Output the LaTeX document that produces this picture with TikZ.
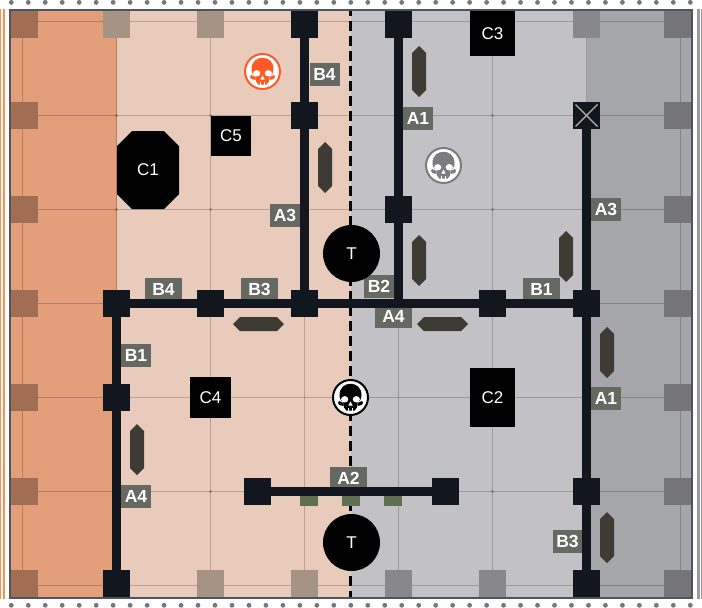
\documentclass[tikz,border=0pt]{standalone}
\usepackage{fontspec}
\setmainfont{Liberation Sans}
\definecolor{orangezone}{HTML}{E39E7A}
\definecolor{peachzone}{HTML}{E8CBBB}
\definecolor{grayzone}{HTML}{C2C1C6}
\definecolor{darkzone}{HTML}{A5A6AA}
\definecolor{sqorange}{HTML}{A06F53}
\definecolor{sqpeach}{HTML}{A59384}
\definecolor{sqgray}{HTML}{88888A}
\definecolor{sqdark}{HTML}{757578}
\definecolor{roadcol}{HTML}{12161E}
\definecolor{labelcol}{HTML}{666961}
\definecolor{framecol}{HTML}{4F5560}
\definecolor{hexcol}{HTML}{3E3A34}
\definecolor{greencol}{HTML}{5E7051}
\definecolor{dotcol}{HTML}{77777A}
\definecolor{stripeor}{HTML}{FF9050}
\definecolor{stripegr}{HTML}{9A9AA0}
\definecolor{skullor}{HTML}{FF5A26}
\definecolor{skullgr}{HTML}{7C7C7E}
\definecolor{crosscol}{HTML}{B4B4B4}
\tikzset{
  x=1pt,y=-1pt,
  gridline/.style={black,opacity=0.2,line width=1pt},
  griddot/.style={fill=black,opacity=0.15,inner sep=0pt,minimum size=3pt,rectangle},
  sq/.style={rectangle,minimum size=27pt,inner sep=0pt,fill=#1},
  road/.style={draw=roadcol,line width=9pt},
  tag/.style={rectangle,fill=labelcol,text=white,font=\bfseries\fontsize{17.5}{17.5}\selectfont,inner sep=0pt,minimum height=23pt,minimum width=#1},
  tag/.default=30pt,
  block/.style={rectangle,fill=black,text=white,inner sep=0pt,font=\fontsize{17}{17}\selectfont},
  tower/.style={circle,fill=black,text=white,inner sep=0pt,minimum size=57pt,font=\fontsize{17}{17}\selectfont},
  skullbase/.style={circle,fill=white,draw=#1,line width=2pt,minimum size=35pt,inner sep=0pt},
  greenbit/.style={rectangle,fill=greencol,minimum width=18pt,minimum height=10pt,inner sep=0pt},
}
\newcommand{\vhex}[2]{\fill[hexcol] (#1,#2-25.5) -- (#1+7,#2-18.5) -- (#1+7,#2+18.5) -- (#1,#2+25.5) -- (#1-7,#2+18.5) -- (#1-7,#2-18.5) -- cycle;}
\newcommand{\hhex}[2]{\fill[hexcol] (#1-25.5,#2) -- (#1-18.5,#2-7) -- (#1+18.5,#2-7) -- (#1+25.5,#2) -- (#1+18.5,#2+7) -- (#1-18.5,#2+7) -- cycle;}
\newcommand{\skullmark}[3]{%
  \begin{scope}[shift={(#1,#2)}]
    \fill[#3] (-11.5,3.5) -- (-7,5.5) -- (-7,8.5) -- (-11,7.5) -- (-12.5,5.5) -- cycle;
    \fill[#3] (11.5,3.5) -- (7,5.5) -- (7,8.5) -- (11,7.5) -- (12.5,5.5) -- cycle;
    \fill[#3] (-11,-2.5) .. controls (-11,-17.5) and (11,-17.5) .. (11,-2.5)
      .. controls (11,2) and (9,4) .. (7,5) -- (6.5,10) -- (4.2,13) -- (-4.2,13) -- (-6.5,10) -- (-7,5)
      .. controls (-9,4) and (-11,2) .. (-11,-2.5) -- cycle;
    \fill[white] (-5.8,1.8) ellipse [x radius=3.6,y radius=3.2];
    \fill[white] (5.8,1.8) ellipse [x radius=3.6,y radius=3.2];
    \fill[white] (0,4) -- (2.2,8) -- (-2.2,8) -- cycle;
    \draw[white,line width=0.9pt] (-2,10) -- (-2,13.5) (2,10) -- (2,13.5);
  \end{scope}}
\begin{document}
\begin{tikzpicture}
\useasboundingbox (0,0) rectangle (702,608);
\fill[white] (0,0) rectangle (702,608);
\fill[stripeor] (0,9) rectangle (1,599);
\fill[stripeor] (2.7,9) rectangle (5,599);
\fill[stripegr] (697,9) rectangle (699.6,599);
\fill[stripegr] (701,9) rectangle (702,599);
\foreach \k in {0,...,40}{
  \fill[dotcol] ({11.3+16.975*\k},2.4) circle (2.4);
  \fill[dotcol] ({11.3+16.975*\k},605.3) circle (2.4);
}
\fill[orangezone] (10,10) rectangle (116.5,598);
\fill[peachzone] (116.5,10) rectangle (350.5,598);
\fill[grayzone] (350.5,10) rectangle (586.5,598);
\fill[darkzone] (586.5,10) rectangle (692,598);
\begin{scope}
  \clip (11,11) rectangle (691,597);
  \foreach \gx in {22.5,116.5,210.5,304.5,398.5,492.5,586.5,680.5}
    \draw[gridline] (\gx,10) -- (\gx,598);
  \foreach \gy in {21.5,115.5,209.5,303.5,397.5,491.5,585.5}
    \draw[gridline] (10,\gy) -- (692,\gy);
  \foreach \gx in {116.5,210.5,492.5}
    \foreach \gy in {115.5,209.5,397.5,491.5}
      \node[griddot] at (\gx,\gy) {};
\end{scope}
% border squares
\foreach \gy [count=\i] in {24.5,115.5,209.5,303.5,397.5,491.5,583.5}{
  \node[sq=sqorange] (wl\i) at (24.5,\gy) {};
  \node[sq=sqdark] (wr\i) at (677.5,\gy) {};
}
\node[sq=sqpeach] (tp1) at (116.5,24.5) {};
\node[sq=sqpeach] (tp2) at (210.5,24.5) {};
\node[sq=sqgray] (tg1) at (586.5,24.5) {};
\node[sq=sqpeach] (bp1) at (210.5,583.5) {};
\node[sq=sqpeach] (bp2) at (304.5,583.5) {};
\node[sq=sqgray] (bg1) at (398.5,583.5) {};
\node[sq=sqgray] (bg2) at (492.5,583.5) {};
% centre line
\draw[black,line width=3pt,dash pattern=on 10pt off 5pt,dash phase=5pt] (350.5,11) -- (350.5,597);
% labels
\node[tag] (lb4t) at (324.5,74.5) {B4};
\node[tag] (la1t) at (418,118.5) {A1};
\node[tag] (la3l) at (285,215.5) {A3};
\node[tag] (la3r) at (606,209.5) {A3};
\node[tag=37pt] (lb4m) at (163.5,289.5) {B4};
\node[tag=37pt] (lb3m) at (259.5,289.5) {B3};
\node[tag] (lb2m) at (379,286.5) {B2};
\node[tag=37pt] (lb1m) at (541.5,289.5) {B1};
\node[tag=37pt] (la4m) at (393.5,316.5) {A4};
\node[tag] (lb1l) at (136,355.5) {B1};
\node[tag] (la1r) at (606,398.5) {A1};
\node[tag] (la4l) at (136,496.5) {A4};
\node[tag=37pt] (la2) at (348.5,478.5) {A2};
\node[tag] (lb3r) at (567.5,541.5) {B3};
% road junctions
\node[sq=roadcol] (n1) at (304.5,24.5) {};
\node[sq=roadcol] (n2) at (304.5,115.5) {};
\node[sq=roadcol] (n3) at (304.5,303.5) {};
\node[sq=roadcol] (n4) at (398.5,24.5) {};
\node[sq=roadcol] (n5) at (398.5,209.5) {};
\coordinate (j1) at (398.5,303.5);
\node[sq=roadcol] (n6) at (586.5,115.5) {};
\node[sq=roadcol] (n7) at (586.5,303.5) {};
\node[sq=roadcol] (n8) at (586.5,491.5) {};
\node[sq=roadcol] (n9) at (586.5,583.5) {};
\node[sq=roadcol] (n10) at (116.5,303.5) {};
\node[sq=roadcol] (n11) at (210.5,303.5) {};
\node[sq=roadcol] (n12) at (492.5,303.5) {};
\node[sq=roadcol] (n13) at (116.5,397.5) {};
\node[sq=roadcol] (n14) at (116.5,583.5) {};
\node[sq=roadcol] (n15) at (257.5,491.5) {};
\node[sq=roadcol] (n16) at (445.5,491.5) {};
% roads
\draw[road] (n1) -- (n2);
\draw[road] (n2) -- (n3);
\draw[road] (n4) -- (n5);
\draw[road] (n5) -- (j1);
\draw[road] (n6) -- (n7);
\draw[road] (n7) -- (n8);
\draw[road] (n8) -- (n9);
\draw[road] (n10) -- (n11);
\draw[road] (n11) -- (n3);
\draw[road] (n3) -- (n12);
\draw[road] (n12) -- (n7);
\draw[road] (n10) -- (n13);
\draw[road] (n13) -- (n14);
\draw[road] (n15) -- (n16);
% crossed square
\draw[crosscol,line width=1.2pt] (n6.center) ++(-11,-11) -- ++(22,22);
\draw[crosscol,line width=1.2pt] (n6.center) ++(11,-11) -- ++(-22,22);
% hex tiles
\vhex{419}{71.5}
\vhex{325}{167.5}
\vhex{419}{260.5}
\vhex{566}{256.5}
\vhex{607}{352.5}
\vhex{137}{449.5}
\vhex{607}{537.5}
\hhex{258.5}{324}
\hhex{442.5}{324}
% green bits
\node[greenbit] (g1) at (309,501) {};
\node[greenbit] (g2) at (351,501) {};
\node[greenbit] (g3) at (393,501) {};
% towers
\node[tower] (t1) at (351.5,253.5) {T};
\node[tower] (t2) at (351.5,542.5) {T};
% blocks
\fill[black] (132,131) -- (164,131) -- (179,146) -- (179,194) -- (164,209) -- (132,209) -- (117,194) -- (117,146) -- cycle;
\node[text=white,font=\fontsize{17}{17}\selectfont] (c1) at (148,170) {C1};
\node[block,minimum width=45pt,minimum height=45pt] (c3) at (492.5,33.5) {C3};
\node[block,minimum width=40pt,minimum height=40pt] (c5) at (231,136) {C5};
\node[block,minimum width=41pt,minimum height=41pt] (c4) at (210.5,397.5) {C4};
\node[block,minimum width=45pt,minimum height=59pt] (c2) at (492.5,397.5) {C2};
% skulls
\node[skullbase=skullor] (s1) at (262.5,71.5) {};
\skullmark{262.5}{71.5}{skullor}
\node[skullbase=skullgr] (s2) at (443.5,165.5) {};
\skullmark{443.5}{165.5}{skullgr}
\node[skullbase=black] (s3) at (350.5,397.5) {};
\skullmark{350.5}{397.5}{black}
% frame
\draw[framecol,line width=2pt] (10,10) rectangle (692,598);
\end{tikzpicture}
\end{document}
